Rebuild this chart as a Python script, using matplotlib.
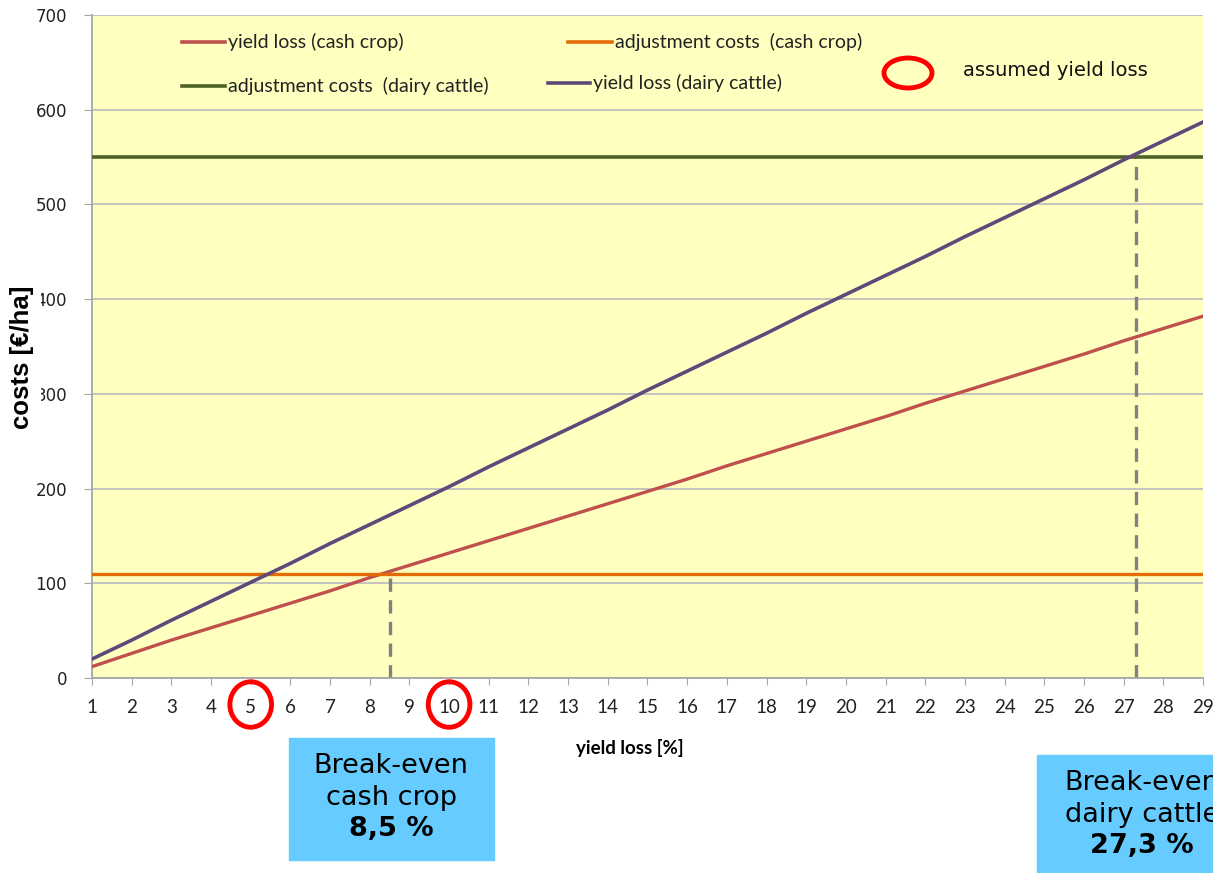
import numpy as np
import matplotlib
matplotlib.use("Agg")
import matplotlib.pyplot as plt
from matplotlib.patches import Ellipse
from matplotlib.lines import Line2D

# --------------------------
# Data
# --------------------------
yield_loss_pct = list(range(1, 30))

yield_loss_cash_crop = [12, 26, 40, 53, 66, 79, 92, 106, 119, 132, 145, 158, 171, 184,
                        197, 210, 224, 237, 250, 263, 276, 290, 303, 316, 329, 342, 356,
                        369, 382]
yield_loss_dairy = [20, 40, 61, 81, 101, 121, 142, 162, 182, 202, 223, 243, 263, 283,
                    304, 324, 344, 364, 385, 405, 425, 445, 466, 486, 506, 526, 547,
                    567, 587]
adjust_cash_crop = 110
adjust_dairy = 550

break_even_cash = 8.5
break_even_dairy = 27.3
assumed_loss = [5, 10]

y_ticks = [0, 100, 200, 300, 400, 500, 600, 700]

# --------------------------
# Figure
# --------------------------
W, H = 1213, 873
fig = plt.figure(figsize=(W / 100, H / 100), dpi=100)


def fx(px):
    return px / W


def fy(py):
    return 1 - py / H


ax_l, ax_r, ax_t, ax_b = 92, 1203, 15, 678
ax = fig.add_axes([fx(ax_l), fy(ax_b), (ax_r - ax_l) / W, (ax_b - ax_t) / H])
ax.set_facecolor("#FFFFC0")

narrow = ["Lato", "DejaVu Sans"]

ax.plot(yield_loss_pct, yield_loss_cash_crop, color="#C0504D", lw=2.4, zorder=3)
ax.plot(yield_loss_pct, [adjust_cash_crop] * len(yield_loss_pct), color="#E36C09", lw=2.4, zorder=3)
ax.plot(yield_loss_pct, [adjust_dairy] * len(yield_loss_pct), color="#4F6228", lw=2.6, zorder=3)
ax.plot(yield_loss_pct, yield_loss_dairy, color="#5F497A", lw=2.6, zorder=4)

# break-even markers
ax.plot([break_even_cash, break_even_cash], [0, adjust_cash_crop], color="#808080",
        lw=2.4, ls=(0, (4, 2.5)), zorder=2)
ax.plot([break_even_dairy, break_even_dairy], [0, adjust_dairy], color="#808080",
        lw=2.4, ls=(0, (4, 2.5)), zorder=2)

ax.set_xlim(1, 29)
ax.set_ylim(0, 700)
ax.set_yticks(y_ticks)
ax.set_xticks(yield_loss_pct)
ax.grid(axis="y", color="#BFBFBF", lw=1.3)
ax.set_axisbelow(True)
for s in ["top", "right"]:
    ax.spines[s].set_visible(False)
for s in ["left", "bottom"]:
    ax.spines[s].set_color("#A6A6A6")
    ax.spines[s].set_linewidth(1.3)
ax.tick_params(axis="y", length=6, color="#A6A6A6", pad=12, labelsize=12, labelcolor="#222222")
ax.tick_params(axis="x", length=5, color="#A6A6A6", pad=10, labelsize=13.5, labelcolor="#222222")
for lab in ax.get_xticklabels():
    lab.set_family(narrow)

# red circles around assumed yield losses
for v in assumed_loss:
    ax.add_patch(Ellipse((v, -28), 1.05, 48, transform=ax.transData, fill=False,
                         edgecolor="#FF0000", lw=3.5, clip_on=False, zorder=5))

# legend (manual placement like the original)
legend_items = [
    (182, 225, 42, "#C0504D", "yield loss (cash crop)"),
    (568, 612, 42, "#E36C09", "adjustment costs  (cash crop)"),
    (182, 225, 86, "#4F6228", "adjustment costs  (dairy cattle)"),
    (548, 590, 83, "#5F497A", "yield loss (dairy cattle)"),
]
for x0, x1, yy, col, lab in legend_items:
    fig.add_artist(Line2D([fx(x0), fx(x1)], [fy(yy), fy(yy)], color=col, lw=2.6))
    fig.text(fx(x1 + 3), fy(yy), lab, family=narrow, fontsize=14, va="center",
             ha="left", color="#222222")

fig.add_artist(Ellipse((fx(908), fy(73)), 48 / W, 30 / H, transform=fig.transFigure,
                       fill=False, edgecolor="#FF0000", lw=3.5))
fig.text(fx(963), fy(71), "assumed yield loss", fontsize=14, va="center", ha="left",
         color="#111111")

# axis labels
fig.text(fx(22), fy(357), "costs [€/ha]", rotation=90, fontsize=18.5, fontweight="bold",
         family="Liberation Sans", ha="center", va="center",
         bbox=dict(facecolor="white", edgecolor="none", pad=5))
fig.text(fx(630), fy(748), "yield loss [%]", fontsize=13.5, fontweight="bold",
         family=narrow, ha="center", va="center")

# break-even boxes
box_color = "#66CCFF"
fig.patches.append(plt.Rectangle((fx(289), fy(860)), (494 - 289) / W, (860 - 738) / H,
                                 transform=fig.transFigure, color=box_color))
fig.text(fx(391), fy(766), "Break-even", fontsize=19.5, ha="center", va="center")
fig.text(fx(391), fy(798), "cash crop", fontsize=19.5, ha="center", va="center")
fig.text(fx(391), fy(829), "8,5 %", fontsize=19.5, fontweight="bold", ha="center",
         va="center")

fig.patches.append(plt.Rectangle((fx(1037), fy(873)), (W - 1037) / W, (873 - 755) / H,
                                 transform=fig.transFigure, color=box_color))
fig.text(fx(1142), fy(783), "Break-even", fontsize=19.5, ha="center", va="center")
fig.text(fx(1142), fy(815), "dairy cattle", fontsize=19.5, ha="center", va="center")
fig.text(fx(1142), fy(846), "27,3 %", fontsize=19.5, fontweight="bold", ha="center",
         va="center")

fig.savefig("out.png", dpi=100)
